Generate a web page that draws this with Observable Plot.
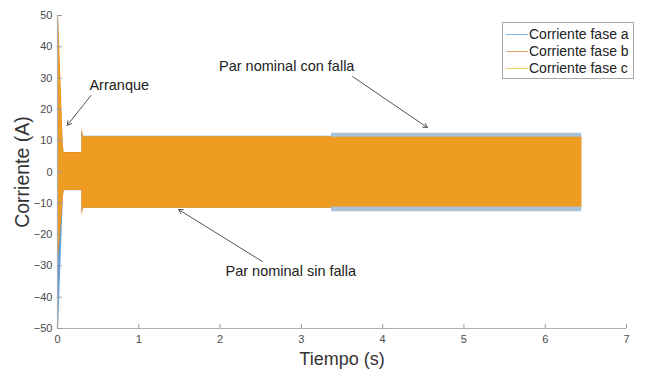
<!DOCTYPE html>
<html>
<head>
<meta charset="utf-8">
<script src="https://cdn.jsdelivr.net/npm/d3@7"></script>
<script src="https://cdn.jsdelivr.net/npm/@observablehq/plot@0.6"></script>
<style>
  html, body { margin: 0; padding: 0; background: #fff; }
  #wrap { position: relative; width: 645px; height: 371px; font-family: "Liberation Sans", Arial, sans-serif; }
  #legend { position: absolute; left: 502px; top: 22px; width: 132px; height: 57px; border: 1px solid #a8a8a8; background: #fff; overflow: hidden; box-sizing: border-box; }
  .row { position: absolute; left: 0; height: 18px; line-height: 18px; font-size: 14px; color: #222; white-space: nowrap; }
  .row .ln { position: absolute; left: 3px; top: 9px; width: 22px; height: 1px; }
  .row .tx { position: absolute; left: 26px; top: 0; }
</style>
</head>
<body>
<div id="wrap"></div>
<script>
// ---- Data (current envelopes of the three phases) ----
const time     = [0,   0.015, 0.07, 0.08, 0.30, 0.301, 0.32,  3.37,  3.371, 6.45];
const faseAHi  = [30,  26,    9,    6,    6,    13,    11.4,  11.4,  12.4,  12.4];
const faseALo  = [-50, -49,   -9,   -6,   -6,   -13,   -11.6, -11.6, -12.7, -12.7];
const faseBHi  = [50,  49,    9,    6.2,  6.2,  14,    11.3,  11.3,  11.1,  11.1];
const faseBLo  = [-30, -27,   -9,   -5.9, -5.9, -14,   -11.6, -11.6, -11.2, -11.2];
const faseCHi  = [45,  42,    8,    6,    6,    12,    11.3,  11.3,  11.1,  11.1];
const faseCLo  = [-28, -25,   -8,   -5.9, -5.9, -12,   -11.5, -11.5, -11.2, -11.2];

const seriesNames = ["Corriente fase a", "Corriente fase b", "Corriente fase c"];
const xTicks = [0, 1, 2, 3, 4, 5, 6, 7];
const yTicks = [-50, -40, -30, -20, -10, 0, 10, 20, 30, 40, 50];

const annLabels = ["Arranque", "Par nominal con falla", "Par nominal sin falla"];
const annTextX  = [0.76, 2.82, 2.87];
const annTextY  = [27.6, 33.7, -31.8];
const annFromX  = [0.41, 3.63, 2.52];
const annFromY  = [24.4, 30.5, -28.6];
const annToX    = [0.12, 4.55, 1.49];
const annToY    = [14.9, 14.2, -12.0];

// ---- Build tables ----
const mk = (hi, lo) => time.map((t, i) => ({t, hi: hi[i], lo: lo[i]}));
const dA = mk(faseAHi, faseALo), dB = mk(faseBHi, faseBLo), dC = mk(faseCHi, faseCLo);
const dAstart = dA.filter(d => d.t <= 3.37), dAfault = dA.filter(d => d.t >= 3.37);
const ann = annLabels.map((s, i) => ({s, tx: annTextX[i], ty: annTextY[i], x1: annFromX[i], y1: annFromY[i], x2: annToX[i], y2: annToY[i]}));

const colA = "#4a96d8", colB = "#ec8a1a", colC = "#f5b730";
const axisCol = "#b0b0b0", tickTxt = "#4a4a4a";

const chart = Plot.plot({
  width: 645, height: 371,
  marginLeft: 57, marginRight: 19, marginTop: 15, marginBottom: 43,
  style: {fontFamily: "'Liberation Sans', Arial, sans-serif", background: "#fff"},
  x: {domain: [0, 7]},
  y: {domain: [-50, 50]},
  marks: [
    Plot.areaY(dAstart, {x: "t", y1: "lo", y2: "hi", fill: colA, fillOpacity: 0.9}),
    Plot.areaY(dAfault, {x: "t", y1: "lo", y2: "hi", fill: "#6f9cc2", fillOpacity: 0.6}),
    Plot.areaY(dB, {x: "t", y1: "lo", y2: "hi", fill: colB}),
    Plot.areaY(dC, {x: "t", y1: "lo", y2: "hi", fill: colC, fillOpacity: 0.4}),
    Plot.ruleY([-50], {stroke: axisCol, strokeWidth: 1.2}),
    Plot.ruleX([0], {stroke: axisCol, strokeWidth: 1.2}),
    Plot.ruleX(xTicks, {x: d => d, y1: -50, y2: -48.7, stroke: "#999"}),
    Plot.ruleY(yTicks, {y: d => d, x1: 0, x2: 0.06, stroke: "#999"}),
    Plot.axisX(xTicks, {tickSize: 0, tickPadding: 7, fontSize: 11, color: tickTxt, label: "Tiempo (s)", labelAnchor: "center", labelArrow: "none", labelOffset: 36}),
    Plot.axisY(yTicks, {tickSize: 0, tickPadding: 5, fontSize: 11, color: tickTxt, label: null}),
    Plot.arrow(ann, {x1: "x1", y1: "y1", x2: "x2", y2: "y2", stroke: "#555", strokeWidth: 1, headLength: 7}),
    Plot.text(ann, {x: "tx", y: "ty", text: "s", fontSize: 14.5, fill: "#222"})
  ]
});

d3.select(chart).selectAll("g[aria-label='x-axis label'] text").attr("font-size", 18).attr("fill", "#333");

const wrap = document.getElementById("wrap");
wrap.appendChild(chart);

d3.select(chart).append("text")
  .attr("transform", "translate(24,172) rotate(-90)")
  .attr("text-anchor", "middle").attr("dominant-baseline", "middle")
  .attr("font-size", 19.5).attr("fill", "#333")
  .attr("font-family", "'Liberation Sans', Arial, sans-serif")
  .text("Corriente (A)");

const legendColors = ["#7fb2e0", "#e6a36a", "#efcf70"];
const lg = document.createElement("div");
lg.id = "legend";
seriesNames.forEach((n, i) => {
  const r = document.createElement("div"); r.className = "row";
  r.style.top = (2 + i * 17) + "px";
  r.innerHTML = `<span class="ln" style="background-color:${legendColors[i]}"></span><span class="tx">${n}</span>`;
  lg.appendChild(r);
});
wrap.appendChild(lg);
</script>
</body>
</html>
